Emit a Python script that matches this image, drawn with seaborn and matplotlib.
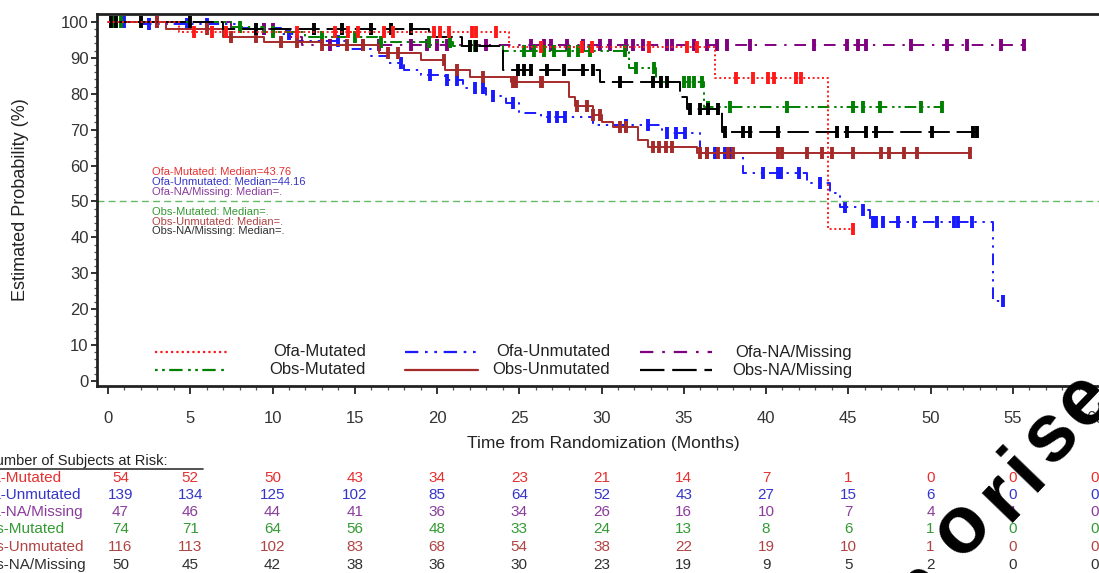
import numpy as np
import pandas as pd
import matplotlib
matplotlib.use("Agg")
import matplotlib.pyplot as plt
import matplotlib.transforms as mtransforms
import seaborn as sns

# ---------------- data ----------------
groups = ["Ofa-Mutated", "Ofa-Unmutated", "Ofa-NA/Missing",
          "Obs-Mutated", "Obs-Unmutated", "Obs-NA/Missing"]

# Kaplan-Meier step points (time in months, survival in %)
ofa_mut_t = [0, 4.3, 24.4, 36.9, 43.76]
ofa_mut_s = [100, 97.3, 93.0, 84.4, 42.3]
ofa_mut_c = [5.2, 6.3, 7.2, 11.5, 13.8, 14.6, 15.2, 16.8, 17.3, 19.8, 20.2, 20.7, 22.1, 22.4,
             23.6, 26.3, 28.8, 29.4, 32.9, 35.2, 35.8, 38.2, 39.2, 40.1, 40.5, 41.8, 42.1, 45.3]

ofa_unm_t = [0, 2, 8, 10.5, 11.5, 14.5, 16, 17, 18, 19, 20.5, 21.6, 23, 24.2, 25, 26.3, 29.5,
             33.7, 36, 38.6, 42.5, 43.9, 44.5, 45.9, 46.3, 53.8]
ofa_unm_s = [100, 99.3, 98.2, 96.5, 94.6, 92.5, 90.5, 88.6, 86.6, 85.2, 83.8, 81.5, 79.5, 77.5,
             74.7, 73.5, 71.3, 69.0, 63.5, 58.0, 55.0, 52.4, 48.5, 47.6, 44.3, 22.2]
ofa_unm_c = [1, 2.5, 4.8, 6, 11, 14, 17.8, 19.6, 20.6, 21.2, 22.3, 22.8, 23.4, 24.6, 26.8, 27.3,
             27.8, 31.5, 32.8, 34, 34.5, 35.1, 36.4, 36.9, 37.5, 37.9, 39.8, 40.7, 40.9, 42,
             43.3, 44.8, 45.9, 46.5, 46.7, 47.1, 48, 49, 50.4, 51.4, 51.7, 52.5, 54.4]

ofa_na_t = [0, 7.5, 10.8, 11.8]
ofa_na_s = [100, 97.9, 95.8, 93.6]
ofa_na_c = [3, 9.5, 10, 13.5, 15.5, 16.5, 18.4, 19.4, 20, 20.6, 23, 25.7, 26.5, 26.9, 27.9,
            28.9, 29.9, 30.5, 31.5, 31.9, 32.5, 34, 34.3, 35.6, 36.4, 37, 37.6, 39, 42.9,
            44.9, 45.6, 46.1, 48.8, 51, 52.2, 54.3, 55.7]

obs_mut_t = [0, 7.5, 9.5, 12, 16.5, 21, 24, 31.7, 33.3, 36.2]
obs_mut_s = [100, 98.6, 97.3, 95.9, 94.5, 93.2, 91.8, 87.2, 83.2, 76.2]
obs_mut_c = [0.3, 0.8, 8, 10, 13, 15, 16.6, 19.5, 20.8, 22, 22.3, 25.3, 25.9, 26.5, 27.1, 28,
             28.6, 29.3, 31.4, 32.1, 33.2, 35, 35.3, 35.6, 36.1, 36.5, 37.8, 41.3, 45.3, 45.9,
             46.9, 49.4, 50.7]

obs_unm_t = [0, 3.5, 7, 9.5, 13, 16.5, 19, 20.5, 22, 24.5, 28, 28.4, 29.5, 30, 30.7, 32.2,
             32.8, 35.8]
obs_unm_s = [100, 98, 95.8, 94.5, 93.5, 91.4, 89.5, 86.6, 84.7, 83.3, 79, 76.5, 74, 72,
             70.8, 67, 65.2, 63.5]
obs_unm_c = [3, 6, 7.5, 9, 10.5, 11.5, 13, 14.5, 15.5, 17, 17.6, 20.4, 21.2, 22.8, 24.6, 24.8,
             26.3, 26.4, 28.5, 29.1, 29.5, 29.9, 31.1, 31.5, 33.1, 33.5, 33.9, 34.3, 36, 36.4,
             37.1, 37.7, 38, 40.7, 41, 42.5, 43.4, 44, 45.3, 47, 47.5, 48.4, 49.2, 52.4]

obs_na_t = [0, 7, 19.5, 21.5, 24, 29.9, 34.8, 35.2, 37.3]
obs_na_s = [100, 97.9, 95.8, 93.2, 86.6, 83.3, 79, 75.8, 69.4]
obs_na_c = [0.2, 0.5, 2, 5, 9, 12.5, 14.2, 16, 17.2, 18.4, 22, 22.4, 24.9, 25.3, 25.7, 26.7,
            27.7, 28.9, 29.5, 31.1, 33.1, 33.6, 34, 35.4, 36, 36.5, 37.1, 37.5, 38.6, 39, 40.7,
            44.3, 44.9, 46.1, 46.7, 50.1, 52.6, 52.8]

medians = ["Ofa-Mutated: Median=43.76", "Ofa-Unmutated: Median=44.16", "Ofa-NA/Missing: Median=.",
           "Obs-Mutated: Median=.", "Obs-Unmutated: Median=.", "Obs-NA/Missing: Median=."]

risk_times = [0, 5, 10, 15, 20, 25, 30, 35, 40, 45, 50, 55, 60]
risk_ofa_mut = [54, 52, 50, 43, 34, 23, 21, 14, 7, 1, 0, 0, 0]
risk_ofa_unm = [139, 134, 125, 102, 85, 64, 52, 43, 27, 15, 6, 0, 0]
risk_ofa_na = [47, 46, 44, 41, 36, 34, 26, 16, 10, 7, 4, 1, 0]
risk_obs_mut = [74, 71, 64, 56, 48, 33, 24, 13, 8, 6, 1, 0, 0]
risk_obs_unm = [116, 113, 102, 83, 68, 54, 38, 22, 19, 10, 1, 0, 0]
risk_obs_na = [50, 45, 42, 38, 36, 30, 23, 19, 9, 5, 2, 0, 0]

watermark_letters = ["h", "o", "r", "i", "s", "e"]

# ---------------- styles ----------------
line_colors = {"Ofa-Mutated": "#ff1a1a", "Ofa-Unmutated": "#1a1aff", "Ofa-NA/Missing": "#800080",
               "Obs-Mutated": "#008000", "Obs-Unmutated": "#a52a2a", "Obs-NA/Missing": "#000000"}
text_colors = {"Ofa-Mutated": "#e63030", "Ofa-Unmutated": "#3535c8", "Ofa-NA/Missing": "#8a3c9c",
               "Obs-Mutated": "#349a34", "Obs-Unmutated": "#b04444", "Obs-NA/Missing": "#303030"}
dash_map = {"Ofa-Mutated": (1, 1.4), "Ofa-Unmutated": (6, 3, 1.2, 3, 1.2, 3),
            "Ofa-NA/Missing": (6, 4, 1.2, 4), "Obs-Mutated": (1.2, 2, 1.2, 2, 6, 2.5),
            "Obs-Unmutated": "", "Obs-NA/Missing": (11, 3.5)}

series = {
    "Ofa-Mutated": (ofa_mut_t, ofa_mut_s, ofa_mut_c),
    "Ofa-Unmutated": (ofa_unm_t, ofa_unm_s, ofa_unm_c),
    "Ofa-NA/Missing": (ofa_na_t, ofa_na_s, ofa_na_c),
    "Obs-Mutated": (obs_mut_t, obs_mut_s, obs_mut_c),
    "Obs-Unmutated": (obs_unm_t, obs_unm_s, obs_unm_c),
    "Obs-NA/Missing": (obs_na_t, obs_na_s, obs_na_c),
}
risk = {"Ofa-Mutated": risk_ofa_mut, "Ofa-Unmutated": risk_ofa_unm, "Ofa-NA/Missing": risk_ofa_na,
        "Obs-Mutated": risk_obs_mut, "Obs-Unmutated": risk_obs_unm, "Obs-NA/Missing": risk_obs_na}

# build tidy frames
step_rows, cens_rows = [], []
for g in groups:
    t, s, c = series[g]
    t = list(t) + [max(c[-1], t[-1])]
    s = list(s) + [s[-1]]
    for ti, si in zip(t, s):
        step_rows.append((g, ti, si))
    tt = np.array(series[g][0])
    ss = np.array(series[g][1])
    for ci in c:
        idx = np.searchsorted(tt, ci, side="right") - 1
        cens_rows.append((g, ci, ss[idx]))
steps = pd.DataFrame(step_rows, columns=["group", "time", "surv"])
cens = pd.DataFrame(cens_rows, columns=["group", "time", "surv"])

# ---------------- figure ----------------
sns.set_style("ticks")
plt.rcParams["font.family"] = ["Liberation Sans", "DejaVu Sans"]

W, H = 1099, 573
fig = plt.figure(figsize=(W / 100, H / 100), dpi=100)
ax = fig.add_axes([97 / W, 1 - 386 / H, (1109 - 97) / W, (386 - 14) / H])

draw_order = ["Ofa-Unmutated", "Ofa-NA/Missing", "Obs-Mutated", "Obs-Unmutated",
              "Obs-NA/Missing", "Ofa-Mutated"]
for g in draw_order:
    sub = steps[steps.group == g]
    sns.lineplot(data=sub, x="time", y="surv", color=line_colors[g], dashes=False,
                 drawstyle="steps-post", estimator=None, sort=False, legend=False,
                 linewidth=1.4, ax=ax, linestyle=(0, dash_map[g]) if dash_map[g] else "-")
    csub = cens[cens.group == g]
    ax.plot(csub["time"], csub["surv"], ls="none", marker="|", ms=9, mew=2.8,
            color=line_colors[g])

ax.axhline(50, color="#66bb66", lw=1.0, ls=(0, (5, 3)))

ax.set_xlim(-0.67, 60.85)
ax.set_ylim(-1.4, 102.2)
ax.set_xticks(range(0, 61, 5))
ax.set_xticks(range(0, 61, 1), minor=True)
ax.set_yticks(range(0, 101, 10))
ax.set_yticks(range(0, 101, 2), minor=True)
ax.tick_params(axis="both", which="major", direction="out", width=1.3,
               labelsize=12, labelcolor="#333333", color="#222222")
ax.tick_params(axis="x", which="major", length=6, pad=12)
ax.tick_params(axis="y", which="major", length=4, pad=2)
ax.tick_params(axis="both", which="minor", direction="out", length=3, width=0.9,
               color="#555555")
ax.tick_params(axis="y", which="minor", length=2)
for sp in ax.spines.values():
    sp.set_linewidth(2)
    sp.set_color("#222222")
ax.set_xlabel("Time from Randomization (Months)", fontsize=12.5, color="#222222", labelpad=7)
ax.set_ylabel("Estimated Probability (%)", fontsize=13, color="#222222", labelpad=23)

# median annotations
ann_y = [58.3, 55.3, 52.6, 47.0, 44.4, 41.8]
for g, txt, yy in zip(groups, medians, ann_y):
    ax.text(2.7, yy, txt, fontsize=8.0, color=text_colors[g], va="center", ha="left")

# manual legend (two rows, three columns)
leg_cols = [(155, 228, 366), (405, 478, 610), (640, 712, 852)]
leg_rows = [352, 370]
order = [["Ofa-Mutated", "Ofa-Unmutated", "Ofa-NA/Missing"],
         ["Obs-Mutated", "Obs-Unmutated", "Obs-NA/Missing"]]
for r, yp in enumerate(leg_rows):
    for c, (x0, x1, xt) in enumerate(leg_cols):
        g = order[r][c]
        yf = 1 - yp / H
        ls = (0, dash_map[g]) if dash_map[g] else "-"
        fig.add_artist(plt.Line2D([x0 / W, x1 / W], [yf, yf], color=line_colors[g], lw=1.6,
                                  ls=ls, transform=fig.transFigure))
        fig.text(xt / W, yf, g, fontsize=12, color="#222222", ha="right", va="center")

# risk table
fig.text(-15 / W, 1 - 461 / H, "Number of Subjects at Risk:", fontsize=10.5, color="#222222",
         va="center", ha="left")
fig.add_artist(plt.Line2D([0, 203 / W], [1 - 469 / H, 1 - 469 / H], color="#333333", lw=1.2,
                          transform=fig.transFigure))
blend = mtransforms.blended_transform_factory(ax.transData, fig.transFigure)
row_y = [478, 495, 512, 529, 547, 565]
for g, yp in zip(groups, row_y):
    yf = 1 - yp / H
    fig.text(-24 / W, yf, g, fontsize=11, color=text_colors[g], va="center", ha="left")
    for tt, n in zip(risk_times, risk[g]):
        xx = 0.75 if tt == 0 else tt
        ax.text(xx, yf, str(n), transform=blend, fontsize=11, color=text_colors[g],
                ha="center", va="center", clip_on=False)

# watermark (letters placed along a diagonal)
wm_px = [(920, 590), (962, 528), (1003, 497), (1025, 470), (1051, 437), (1085, 401)]
for ch, (px, py) in zip(watermark_letters, wm_px):
    fig.text(px / W, 1 - py / H, ch, fontsize=58, fontweight="bold", color="black",
             rotation=46, rotation_mode="anchor", ha="center", va="center")

fig.savefig("out.png", dpi=100)
